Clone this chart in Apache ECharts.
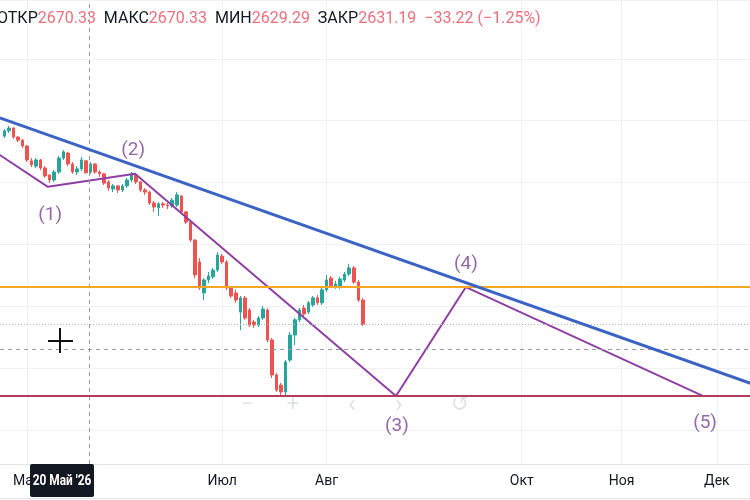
<!DOCTYPE html>
<html><head><meta charset="utf-8">
<script src="https://cdn.jsdelivr.net/npm/echarts@6/dist/echarts.min.js"></script>
<style>html,body{margin:0;padding:0;background:#fff}#c{width:750px;height:500px}</style>
</head><body><div id="c"></div>
<script>
// trading-day index (0 = 1 May '26), open, close, low, high
const candles = [
  [-5, 2750, 2767, 2744, 2773], [-4, 2767, 2776, 2760, 2783], [-3, 2776, 2747, 2741, 2779],
  [-2, 2747, 2737, 2731, 2750], [-1, 2737, 2718, 2712, 2741], [0, 2718, 2673, 2666, 2721],
  [1, 2670, 2657, 2650, 2679], [2, 2653, 2673, 2647, 2679], [3, 2673, 2647, 2640, 2676],
  [4, 2647, 2621, 2615, 2653], [5, 2624, 2608, 2598, 2628], [6, 2608, 2634, 2602, 2640],
  [7, 2634, 2679, 2628, 2686], [8, 2679, 2699, 2673, 2705], [9, 2695, 2660, 2653, 2699],
  [10, 2660, 2634, 2628, 2666], [11, 2634, 2644, 2624, 2653], [12, 2644, 2673, 2637, 2682],
  [13, 2670.33, 2631.19, 2629.29, 2670.33], [14, 2634, 2660, 2628, 2666], [15, 2660, 2634, 2628, 2663],
  [16, 2634, 2628, 2618, 2640], [17, 2628, 2598, 2592, 2631], [18, 2602, 2582, 2573, 2608],
  [19, 2579, 2589, 2569, 2595], [20, 2589, 2576, 2566, 2592], [21, 2576, 2589, 2569, 2595],
  [22, 2589, 2608, 2582, 2615], [23, 2608, 2628, 2602, 2634], [24, 2624, 2602, 2595, 2631],
  [25, 2602, 2576, 2569, 2605], [26, 2576, 2569, 2560, 2582], [27, 2569, 2534, 2527, 2573],
  [28, 2534, 2521, 2505, 2540], [29, 2518, 2531, 2492, 2537], [30, 2531, 2527, 2518, 2537],
  [31, 2527, 2524, 2514, 2534], [32, 2524, 2543, 2518, 2550], [33, 2527, 2560, 2521, 2569],
  [34, 2556, 2505, 2498, 2560], [35, 2505, 2472, 2466, 2508], [36, 2472, 2414, 2408, 2476],
  [37, 2414, 2301, 2291, 2417], [38, 2343, 2259, 2253, 2356], [39, 2243, 2285, 2220, 2291],
  [40, 2285, 2298, 2275, 2311], [41, 2295, 2317, 2288, 2324], [42, 2317, 2366, 2311, 2375],
  [43, 2362, 2343, 2337, 2369], [44, 2343, 2259, 2253, 2350], [45, 2259, 2233, 2227, 2265],
  [46, 2243, 2220, 2211, 2253], [47, 2181, 2227, 2123, 2233], [48, 2227, 2162, 2156, 2233],
  [49, 2188, 2139, 2133, 2194], [50, 2149, 2139, 2130, 2156], [51, 2139, 2162, 2133, 2168],
  [52, 2162, 2191, 2156, 2201], [53, 2188, 2091, 2084, 2194], [54, 2091, 1978, 1968, 2097],
  [55, 1978, 1929, 1923, 1984], [56, 1945, 1923, 1910, 1952], [57, 1923, 2020, 1907, 2026],
  [58, 2026, 2107, 2020, 2117], [59, 2107, 2156, 2075, 2162], [60, 2156, 2188, 2149, 2194],
  [61, 2194, 2175, 2168, 2204], [62, 2181, 2211, 2175, 2217], [63, 2204, 2227, 2198, 2233],
  [64, 2227, 2211, 2204, 2236], [65, 2211, 2253, 2204, 2259], [66, 2253, 2285, 2246, 2301],
  [67, 2291, 2265, 2259, 2298], [68, 2265, 2272, 2256, 2282], [69, 2262, 2288, 2256, 2295],
  [70, 2285, 2304, 2278, 2311], [71, 2304, 2324, 2298, 2337], [72, 2324, 2278, 2272, 2330],
  [73, 2278, 2220, 2214, 2285], [74, 2220, 2142, 2136, 2227]
];
const monthTicks = [0, 43, 66, 109, 131, 152];
const monthLabels = ['Май', 'Июл', 'Авг', 'Окт', 'Ноя', 'Дек'];
const trendLine = [[-6, 2809], [160, 1948]];
const wavePath = [[-6, 2689], [4.6, 2586], [23.8, 2628], [81.3, 1910], [96.7, 2262], [148.9, 1910]];
const waveLabels = [
  {name: '(1)', value: [5.1, 2495]}, {name: '(2)', value: [23.4, 2705]},
  {name: '(3)', value: [81.5, 1813]}, {name: '(4)', value: [96.7, 2337]},
  {name: '(5)', value: [149.4, 1823]}
];
const resistanceLevel = 2262;
const supportLevel = 1910;
const lastClose = 2142;
const crossX = 13.77;
const crossY = 2062;
const crossDate = "20 Май '26";
const header = [['ОТКР', '2670.33'], ['МАКС', '2670.33'], ['МИН', '2629.29'], ['ЗАКР', '2631.19']];
const headerChange = '−33.22 (−1.25%)';

const chart = echarts.init(document.getElementById('c'));
const headerText = header.map(h => '{l|' + h[0] + '}{v|' + h[1] + '}').join('  ') + '  {v|' + headerChange + '}';
const font = 'Roboto, "Liberation Sans", sans-serif';
chart.setOption({
  animation: false,
  backgroundColor: '#fff',
  grid: {left: 0, right: 0, top: 0, bottom: 36},
  xAxis: {
    type: 'value', min: -5.95, max: 159.3,
    axisLine: {show: true, lineStyle: {color: '#e0e3eb', width: 1}},
    axisTick: {show: false, customValues: monthTicks},
    axisLabel: {
      customValues: monthTicks, color: '#131722', fontSize: 14, margin: 10,
      fontFamily: '"Liberation Sans Narrow", Roboto, sans-serif',
      formatter: v => monthLabels[monthTicks.indexOf(v)] || ''
    },
    splitLine: {show: true, lineStyle: {color: '#f0f2f6', width: 1}}
  },
  yAxis: {
    type: 'value', min: 1690, max: 3190, splitNumber: 7, position: 'right',
    axisLine: {show: false}, axisTick: {show: false}, axisLabel: {show: false},
    splitLine: {show: true, lineStyle: {color: '#f0f2f6', width: 1}}
  },
  series: [
    {
      type: 'line', data: [], z: 1, silent: true,
      markLine: {
        symbol: 'none', silent: true, label: {show: false}, animation: false,
        data: [
          {xAxis: crossX, lineStyle: {type: [4, 4], color: '#9598a1', width: 1}},
          {yAxis: crossY, lineStyle: {type: [4, 4], color: '#9598a1', width: 1}},
          {yAxis: lastClose, lineStyle: {type: [1, 2], color: '#b2b5be', width: 1}}
        ]
      }
    },
    {
      type: 'candlestick', data: candles, encode: {x: 0, y: [1, 2, 3, 4]}, barWidth: 3, z: 2,
      itemStyle: {color: '#26a69a', color0: '#ef5350', borderColor: '#26a69a', borderColor0: '#ef5350', borderWidth: 1}
    },
    {
      type: 'line', data: [], z: 3, silent: true,
      markLine: {
        symbol: 'none', silent: true, label: {show: false}, animation: false,
        data: [
          {yAxis: resistanceLevel, lineStyle: {type: 'solid', color: '#f5a623', width: 2}},
          {yAxis: supportLevel, lineStyle: {type: 'solid', color: '#b23c5a', width: 2}}
        ]
      }
    },
    {
      type: 'line', data: wavePath, z: 4, symbol: 'none', silent: true,
      lineStyle: {color: '#8e3fa3', width: 2}
    },
    {
      type: 'line', data: trendLine, z: 5, symbol: 'none', silent: true,
      lineStyle: {color: '#3b63c4', width: 3}
    },
    {
      type: 'scatter', data: waveLabels, symbolSize: 0, z: 6, silent: true,
      label: {show: true, position: 'inside', formatter: '{b}', color: '#7a4190', fontSize: 19, fontFamily: font}
    }
  ],
  graphic: [
    {type: 'text', x: -3, y: 19, z: 10,
      style: {text: headerText, textVerticalAlign: 'middle', font: '16px ' + font,
        rich: {l: {fill: '#131722', fontSize: 16, fontFamily: font}, v: {fill: '#ec6f7c', fontSize: 16, fontFamily: font}}}},
    {type: 'line', shape: {x1: 48, y1: 341, x2: 73, y2: 341}, style: {stroke: '#111', lineWidth: 2}, z: 10},
    {type: 'line', shape: {x1: 60, y1: 328, x2: 60, y2: 353}, style: {stroke: '#111', lineWidth: 2}, z: 10},
    {type: 'text', x: 247, y: 405, z: 10, style: {text: '−', fill: 'rgba(120,123,134,0.22)', font: '22px ' + font, textAlign: 'center', textVerticalAlign: 'middle'}},
    {type: 'text', x: 293, y: 405, z: 10, style: {text: '+', fill: 'rgba(120,123,134,0.22)', font: '22px ' + font, textAlign: 'center', textVerticalAlign: 'middle'}},
    {type: 'text', x: 352, y: 405, z: 10, style: {text: '‹', fill: 'rgba(120,123,134,0.22)', font: '26px ' + font, textAlign: 'center', textVerticalAlign: 'middle'}},
    {type: 'text', x: 399, y: 405, z: 10, style: {text: '›', fill: 'rgba(120,123,134,0.22)', font: '26px ' + font, textAlign: 'center', textVerticalAlign: 'middle'}},
    {type: 'text', x: 460, y: 405, z: 10, style: {text: '↺', fill: 'rgba(120,123,134,0.22)', font: '22px "DejaVu Sans"', textAlign: 'center', textVerticalAlign: 'middle'}},
    {type: 'rect', shape: {x: 30, y: 464, width: 64, height: 33, r: 2}, style: {fill: '#131722'}, z: 10},
    {type: 'text', x: 62, y: 481, z: 11, scaleX: 0.85, style: {text: crossDate, fill: '#fff', font: 'bold 14px ' + font, textAlign: 'center', textVerticalAlign: 'middle'}},
    {type: 'line', shape: {x1: 0, y1: 498.5, x2: 750, y2: 498.5}, style: {stroke: '#e0e3eb', lineWidth: 1}, z: 10}
  ]
});
</script></body></html>
